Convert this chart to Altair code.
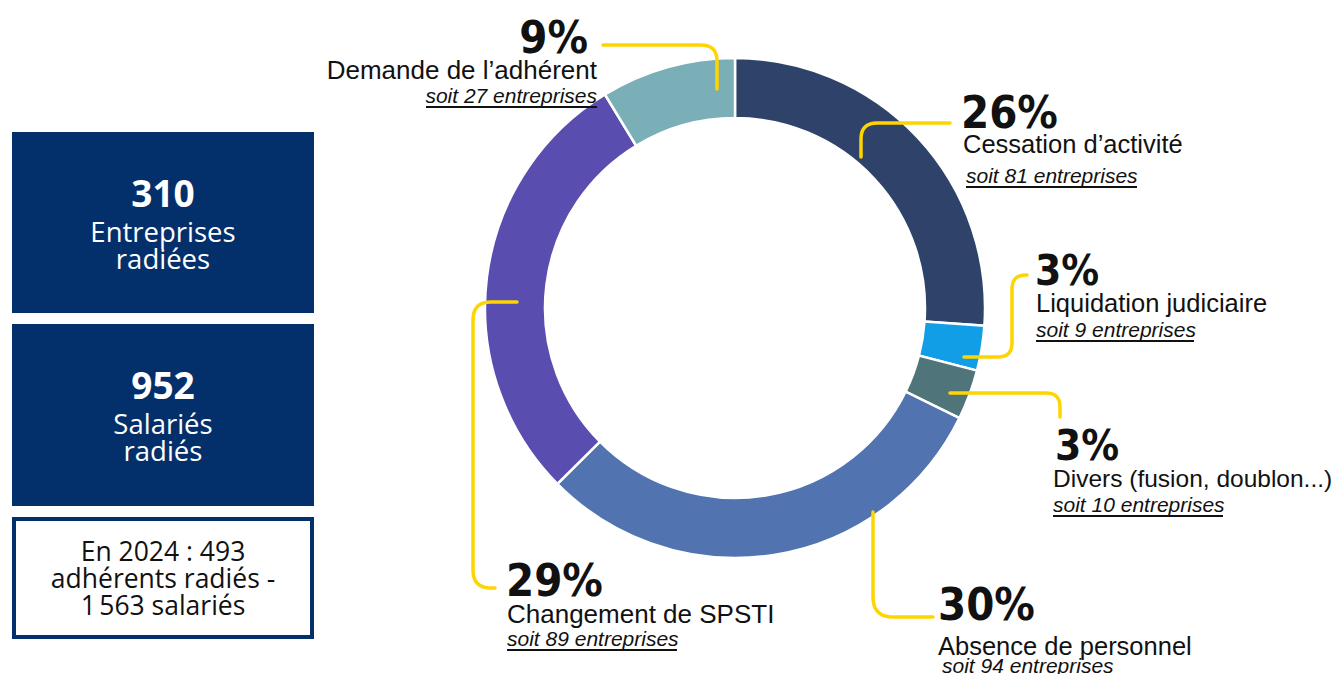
import altair as alt
import pandas as pd
import numpy as np

# ---------------- data ----------------
categories = [
    "Cessation d’activité",
    "Liquidation judiciaire",
    "Divers (fusion, doublon...)",
    "Absence de personnel",
    "Changement de SPSTI",
    "Demande de l’adhérent",
]
entreprises = [81, 9, 10, 94, 89, 27]
slice_colors = ["#2f4269", "#129ee6", "#4f7479", "#5173b0", "#5a4db0", "#7aafb8"]
pct_labels = ["26%", "3%", "3%", "30%", "29%", "9%"]
sub_labels = [f"soit {n} entreprises" for n in entreprises]

box_big = ["310", "952"]
box_words = [["Entreprises", "radiées"], ["Salariés", "radiés"]]
note_lines = ["En 2024 : 493", "adhérents radiés -", "1\u202f563 salariés"]

# ---------------- layout (page pixel coordinates) ----------------
W, H = 1328, 666
X0, Y0 = 8, 8
CX, CY = 735, 308
R_OUT, R_IN = 250, 190

label_align = ["left", "left", "left", "left", "left", "right"]
pct_x = [961, 1035, 1055, 938, 506, 588]
pct_y = [128, 285, 460, 620, 596, 53]
pct_size = [45, 42, 42, 45, 45, 45]
name_x = [963, 1036, 1053, 938, 507, 597]
name_y = [153, 312, 487, 655, 623, 79]
name_size = [25.5, 25.5, 24.5, 25.5, 26, 26]
sub_x = [966, 1036, 1053, 942, 507, 597]
sub_y = [183, 337, 512, 673, 646, 103]
sub_size = [21, 21, 21, 21, 21, 21]
ul_x1 = [966, 1036, 1053, None, 507, 426]
ul_x2 = [1137, 1194, 1223, None, 677, 597]
ul_y = [187, 341, 516, None, 650, 107]

leader_paths = [
    [(603, 45), (717, 45), (717, 89)],
    [(950, 123), (861, 123), (861, 157)],
    [(964, 357), (1012, 357), (1012, 275), (1027, 275)],
    [(950, 393), (1060, 393), (1060, 417)],
    [(517, 302), (473, 302), (473, 588), (495, 588)],
    [(873, 512), (873, 617), (933, 617)],
]
corner_r = [16, 16, 14, 14, 18, 20]

boxes = [
    dict(x=12, x2=314, y=132, y2=313),
    dict(x=12, x2=314, y=324, y2=506),
]
note_box = dict(x=14, x2=312, y=519, y2=637)
box_cx = 163
big_y = [207, 399]
word_y = [[242, 269], [434, 461]]
note_y = [561, 588, 615]

NAVY = "#03306b"
YELLOW = "#ffd500"

xs = alt.Scale(domain=[X0, X0 + W], range=[0, W], nice=False, zero=False)
ys = alt.Scale(domain=[Y0, Y0 + H], range=[0, H], nice=False, zero=False)


def X(f="x"):
    return alt.X(f"{f}:Q", scale=xs, axis=None)


def Y(f="y"):
    return alt.Y(f"{f}:Q", scale=ys, axis=None)


# ---------------- donut ----------------
donut_df = pd.DataFrame({
    "cat": categories,
    "value": entreprises,
    "order": list(range(len(categories))),
})
donut = alt.Chart(donut_df).mark_arc(
    radius=R_OUT, radius2=R_IN, stroke="white", strokeWidth=2.5
).encode(
    theta=alt.Theta("value:Q", stack=True),
    order=alt.Order("order:Q"),
    color=alt.Color("cat:N", scale=alt.Scale(domain=categories, range=slice_colors), legend=None),
    x=alt.value(CX - X0),
    y=alt.value(CY - Y0),
)

# ---------------- leader lines ----------------
def rounded(points, r):
    pts = [np.array(p, dtype=float) for p in points]
    out = [tuple(pts[0])]
    for i in range(1, len(pts) - 1):
        p, c, n = pts[i - 1], pts[i], pts[i + 1]
        d1 = (c - p) / np.linalg.norm(c - p)
        d2 = (n - c) / np.linalg.norm(n - c)
        s = c - d1 * r
        e = c + d2 * r
        for t in np.linspace(0, 1, 10):
            q = (1 - t) ** 2 * s + 2 * (1 - t) * t * c + t ** 2 * e
            out.append(tuple(q))
    out.append(tuple(pts[-1]))
    return out


rows = []
for k, (path, r) in enumerate(zip(leader_paths, corner_r)):
    for j, (px, py) in enumerate(rounded(path, r)):
        rows.append({"path": k, "idx": j, "x": px, "y": py})
leader_df = pd.DataFrame(rows)
leaders = alt.Chart(leader_df).mark_line(
    color=YELLOW, strokeWidth=3.5, strokeCap="round", strokeJoin="round"
).encode(x=X(), y=Y(), detail="path:N", order="idx:Q")

# ---------------- labels ----------------
lab_rows = []
for i in range(len(categories)):
    lab_rows.append({"kind": "pct", "align": label_align[i], "x": pct_x[i], "y": pct_y[i],
                     "text": pct_labels[i], "fs": pct_size[i]})
    lab_rows.append({"kind": "name", "align": label_align[i], "x": name_x[i], "y": name_y[i],
                     "text": categories[i], "fs": name_size[i]})
    lab_rows.append({"kind": "sub", "align": label_align[i], "x": sub_x[i], "y": sub_y[i],
                     "text": sub_labels[i], "fs": sub_size[i]})
lab_df = pd.DataFrame(lab_rows)

styles = {
    "pct": dict(font="Liberation Sans Narrow, DejaVu Sans Condensed, sans-serif", fontWeight="bold"),
    "name": dict(font="Liberation Sans", fontWeight="normal"),
    "sub": dict(font="Liberation Sans", fontStyle="italic"),
}
label_layers = []
for kind, st in styles.items():
    for al in ["left", "right"]:
        label_layers.append(
            alt.Chart(lab_df).transform_filter(
                (alt.datum.kind == kind) & (alt.datum.align == al)
            ).mark_text(align=al, baseline="alphabetic", color="#111111", **st).encode(
                x=X(), y=Y(), text="text:N", size=alt.Size("fs:Q", scale=None, legend=None)
            )
        )

ul_df = pd.DataFrame({"x": ul_x1, "x2": ul_x2, "y": ul_y}).dropna()
underlines = alt.Chart(ul_df).mark_rule(color="#111111", strokeWidth=1.8).encode(
    x=X(), x2="x2:Q", y=Y()
)

# ---------------- left boxes ----------------
box_df = pd.DataFrame(boxes)
box_rects = alt.Chart(box_df).mark_rect(color=NAVY).encode(x=X(), x2="x2:Q", y=Y(), y2="y2:Q")
note_rect = alt.Chart(pd.DataFrame([note_box])).mark_rect(
    fill="white", stroke=NAVY, strokeWidth=4
).encode(x=X(), x2="x2:Q", y=Y(), y2="y2:Q")

big_df = pd.DataFrame({"x": [box_cx] * 2, "y": big_y, "text": box_big})
big_text = alt.Chart(big_df).mark_text(
    align="center", baseline="alphabetic", font="Open Sans", fontSize=37, fontWeight="bold", color="white"
).encode(x=X(), y=Y(), text="text:N")

w_rows = []
for b in range(2):
    for t, yy in zip(box_words[b], word_y[b]):
        w_rows.append({"x": box_cx, "y": yy, "text": t})
word_text = alt.Chart(pd.DataFrame(w_rows)).mark_text(
    align="center", baseline="alphabetic", font="Open Sans", fontSize=27.5, color="white"
).encode(x=X(), y=Y(), text="text:N")

note_df = pd.DataFrame({"x": [box_cx] * 3, "y": note_y, "text": note_lines})
note_text = alt.Chart(note_df).mark_text(
    align="center", baseline="alphabetic", font="Open Sans", fontSize=26.5, color="#111111"
).encode(x=X(), y=Y(), text="text:N")

chart = alt.layer(
    box_rects, note_rect, big_text, word_text, note_text,
    donut, leaders, underlines, *label_layers
).properties(
    width=W, height=H, padding=0, background="white",
    autosize=alt.AutoSizeParams(type="fit", contains="padding"),
).configure_view(stroke=None)

chart.save("out.html", embed_options={"renderer": "svg", "actions": False})
